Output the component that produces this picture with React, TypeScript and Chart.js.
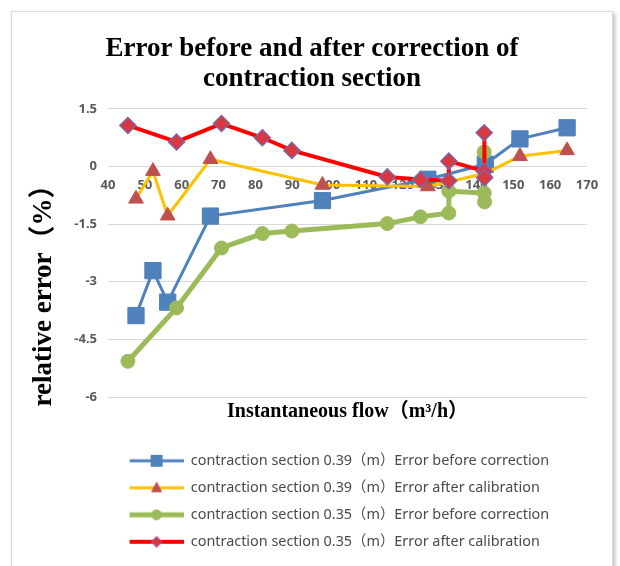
import { useEffect, useRef } from 'react';
import { Chart, registerables } from 'chart.js';

Chart.register(...registerables);

const titleLines = ['Error before and after correction of', 'contraction section'];
const xTitleText = 'Instantaneous flow（m³/h）';
const yTitleText = 'relative error（%）';
const seriesNames = [
  'contraction section 0.39（m）Error before correction',
  'contraction section 0.39（m）Error after calibration',
  'contraction section 0.35（m）Error before correction',
  'contraction section 0.35（m）Error after calibration',
];

// 0.39 m section
const flow39 = [47.6, 52.2, 56.2, 67.8, 98.2, 126.8, 142.4, 151.8, 164.6];
const before39 = [-3.88, -2.71, -3.53, -1.29, -0.885, -0.33, 0.06, 0.72, 1.01];
const after39 = [-0.84, -0.12, -1.28, 0.19, -0.48, -0.52, -0.18, 0.27, 0.42];

// 0.35 m section
const flow35 = [45.4, 58.6, 70.8, 81.9, 89.9, 115.8, 124.8, 132.5, 132.5, 142.1, 142.1, 142.2];
const before35 = [-5.07, -3.68, -2.12, -1.745, -1.68, -1.485, -1.31, -1.21, -0.64, -0.69, 0.38, -0.92];
const after35 = [1.07, 0.64, 1.12, 0.75, 0.42, -0.27, -0.34, -0.37, 0.14, -0.12, 0.88, -0.29];

const xTicks = [40, 50, 60, 70, 80, 90, 100, 110, 120, 130, 140, 150, 160, 170];
const yTicks = [-6, -4.5, -3, -1.5, 0, 1.5];

const tickFont = { family: "'Noto Sans', 'Noto Sans CJK SC', sans-serif", size: 13, weight: 'bold' };
const serif = "'Liberation Serif', 'Noto Sans CJK SC', serif";

function makeIcon(kind: string, lineColor: string, lineWidth: number, fill: string, stroke: string) {
  const c = document.createElement('canvas');
  c.width = 63;
  c.height = 16;
  const g = c.getContext('2d')!;
  g.strokeStyle = lineColor;
  g.lineWidth = lineWidth;
  g.beginPath();
  g.moveTo(9, 8);
  g.lineTo(63, 8);
  g.stroke();
  const cx = 36, cy = 8;
  g.fillStyle = fill;
  g.strokeStyle = stroke;
  g.lineWidth = 1;
  g.beginPath();
  if (kind === 'rect') {
    g.rect(cx - 5.5, cy - 5.5, 11, 11);
  } else if (kind === 'triangle') {
    g.moveTo(cx, cy - 5.5);
    g.lineTo(cx + 5, cy + 4);
    g.lineTo(cx - 5, cy + 4);
    g.closePath();
  } else if (kind === 'circle') {
    g.arc(cx, cy, 5, 0, Math.PI * 2);
  } else {
    g.moveTo(cx, cy - 5.5);
    g.lineTo(cx + 5.5, cy);
    g.lineTo(cx, cy + 5.5);
    g.lineTo(cx - 5.5, cy);
    g.closePath();
  }
  g.fill();
  g.stroke();
  return c;
}

const yTitlePlugin = {
  id: 'yTitlePlugin',
  afterDraw(chart: any) {
    const { ctx, chartArea } = chart;
    ctx.save();
    ctx.translate(chartArea.left - 64, (chartArea.top + chartArea.bottom) / 2 + 36);
    ctx.rotate(-Math.PI / 2);
    ctx.font = `bold 27px ${serif}`;
    ctx.fillStyle = '#000';
    ctx.textAlign = 'center';
    ctx.textBaseline = 'middle';
    ctx.fillText(yTitleText, 0, 0);
    ctx.restore();
  },
};

export default function App() {
  const ref = useRef<HTMLCanvasElement>(null);

  useEffect(() => {
    if (!ref.current) return;
    const icons = [
      makeIcon('rect', '#4F81BD', 3, '#4F81BD', '#4F81BD'),
      makeIcon('triangle', '#FFC000', 3, '#C0504D', '#C0504D'),
      makeIcon('circle', '#9BBB59', 5, '#9BBB59', '#9BBB59'),
      makeIcon('diamond', '#FF0000', 4, '#D9383E', '#7F64A6'),
    ];
    const pts = (xs: number[], ys: number[]) => xs.map((x, i) => ({ x, y: ys[i] }));
    const chart = new Chart(ref.current, {
      type: 'line',
      data: {
        datasets: [
          {
            label: seriesNames[0],
            data: pts(flow39, before39),
            borderColor: '#4F81BD',
            backgroundColor: '#4F81BD',
            borderWidth: 3,
            pointStyle: 'rect',
            pointRadius: 11.5,
            pointBorderWidth: 1,
            order: 4,
            xAxisID: 'x',
            yAxisID: 'y',
          },
          {
            label: seriesNames[1],
            data: pts(flow39, after39),
            borderColor: '#FFC000',
            backgroundColor: '#C0504D',
            pointBorderColor: '#C0504D',
            borderWidth: 3,
            pointStyle: 'triangle',
            pointRadius: 8.5,
            pointBorderWidth: 1,
            order: 3,
            xAxisID: 'x',
            yAxisID: 'y',
          },
          {
            label: seriesNames[2],
            data: pts(flow35, before35),
            borderColor: '#9BBB59',
            backgroundColor: '#9BBB59',
            borderWidth: 5,
            pointStyle: 'circle',
            pointRadius: 7,
            pointBorderWidth: 1,
            order: 2,
            xAxisID: 'x',
            yAxisID: 'y',
          },
          {
            label: seriesNames[3],
            data: pts(flow35, after35),
            borderColor: '#FF0000',
            backgroundColor: '#D9383E',
            pointBorderColor: '#7F64A6',
            borderWidth: 4,
            pointStyle: 'rectRot',
            pointRadius: 8,
            pointBorderWidth: 1.5,
            order: 1,
            xAxisID: 'x',
            yAxisID: 'y',
          },
        ],
      },
      options: {
        animation: false,
        responsive: false,
        maintainAspectRatio: false,
        layout: { padding: { left: 0, right: 0, top: 0, bottom: 8 } },
        plugins: {
          title: {
            display: true,
            text: titleLines,
            color: '#000',
            font: { family: serif, size: 27, weight: 'bold', lineHeight: 1.11 },
            padding: { top: 22, bottom: 15 },
          },
          legend: {
            position: 'bottom',
            align: 'start',
            fullSize: false,
            labels: {
              usePointStyle: true,
              pointStyleWidth: 63,
              padding: 12.6,
              color: '#4a4a4a',
              font: { family: "'Noto Sans', 'Noto Sans CJK SC', sans-serif", size: 14.4 },
              sort: (a: any, b: any) => a.datasetIndex - b.datasetIndex,
              generateLabels: (c: any) => {
                const items = (Chart.defaults.plugins.legend.labels as any).generateLabels(c);
                items.forEach((it: any) => {
                  it.pointStyle = icons[it.datasetIndex];
                });
                return items;
              },
            },
          },
          tooltip: { enabled: false },
        },
        scales: {
          x: {
            type: 'linear',
            position: { y: 0 } as any,
            min: 40,
            max: 170,
            afterBuildTicks: (s: any) => {
              s.ticks = xTicks.map((v) => ({ value: v }));
            },
            ticks: { font: tickFont, color: '#595959', padding: 11, maxRotation: 0 },
            grid: { display: false, drawTicks: false },
            border: { display: false },
          },
          xTitle: {
            type: 'linear',
            position: 'bottom',
            min: 40,
            max: 170,
            ticks: { display: false },
            grid: { display: false, drawTicks: false },
            border: { display: false },
            title: {
              display: true,
              text: xTitleText,
              color: '#000',
              font: { family: serif, size: 20, weight: 'bold' },
              padding: { top: 3, bottom: 17 },
            },
          },
          y: {
            type: 'linear',
            position: 'left',
            min: -6,
            max: 1.5,
            afterBuildTicks: (s: any) => {
              s.ticks = yTicks.map((v) => ({ value: v }));
            },
            afterFit: (s: any) => {
              s.width = 96;
            },
            ticks: { font: tickFont, color: '#595959', padding: 11 },
            grid: { color: '#d9d9d9', lineWidth: 1, drawTicks: false },
            border: { display: false },
          },
          yRight: {
            type: 'linear',
            position: 'right',
            min: 0,
            max: 1,
            ticks: { display: false },
            grid: { display: false, drawTicks: false },
            border: { display: false },
            afterFit: (s: any) => {
              s.width = 25;
            },
          },
        },
      } as any,
      plugins: [yTitlePlugin],
    });
    return () => chart.destroy();
  }, []);

  return (
    <div
      style={{
        position: 'fixed',
        left: 11,
        top: 11,
        width: 600,
        height: 556,
        border: '1px solid #d9d9d9',
        borderBottom: 'none',
        boxShadow: '2px 2px 4px rgba(0,0,0,0.25)',
        background: '#fff',
      }}
    >
      <canvas ref={ref} width={600} height={555} style={{ display: 'block' }} />
    </div>
  );
}
